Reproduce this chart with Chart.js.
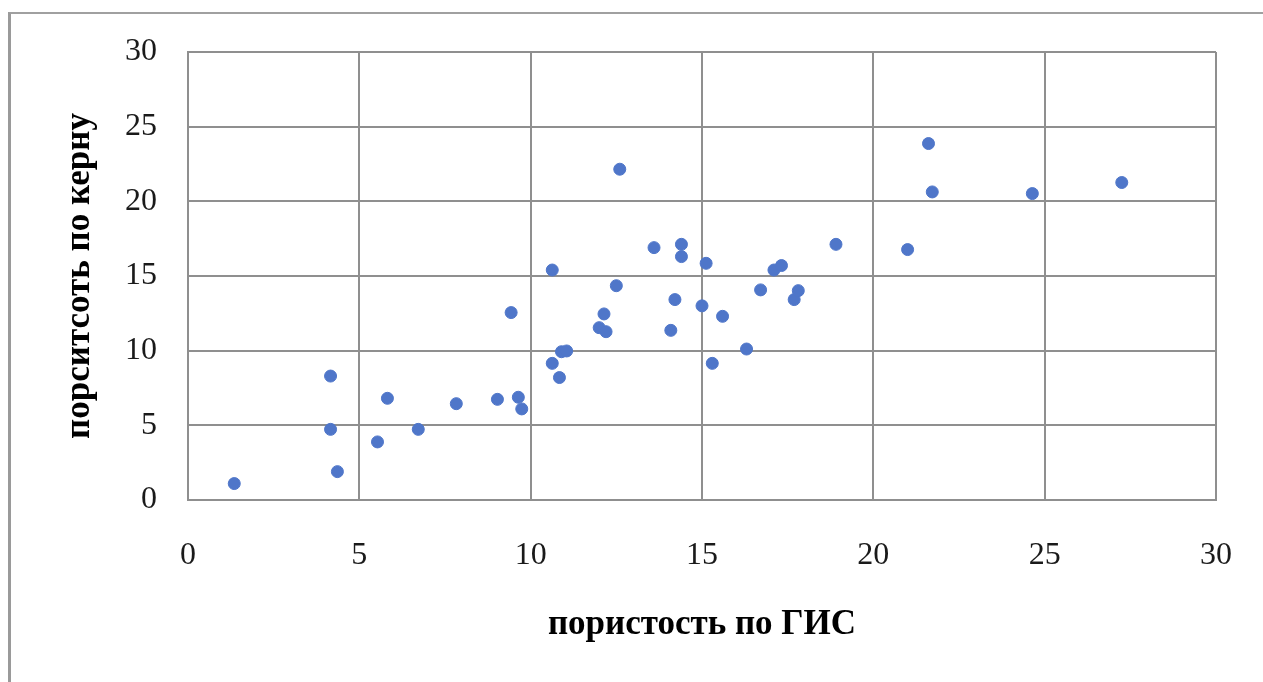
<!DOCTYPE html>
<html lang="ru">
<head>
  <meta charset="UTF-8" />
  <title>Пористость: ГИС и керн</title>
  <script src="https://cdn.jsdelivr.net/npm/chart.js"></script>
  <style>
    html, body { margin: 0; padding: 0; background: #fff; }
    .wrap { position: relative; width: 1263px; height: 682px; overflow: hidden; }
    .frame {
      position: absolute; left: 8px; top: 12px; width: 1300px; height: 700px;
      border-top: 2px solid #a0a0a0; border-left: 3px solid #9a9a9a;
    }
    canvas { position: absolute; left: 0; top: 0; }
  </style>
</head>
<body>
  <div class="wrap">
    <div class="frame"></div>
    <canvas id="scatter" width="1263" height="682"></canvas>
  </div>

  <script>
    // пористость по ГИС (x) и по керну (y)
    const gisValues = [
      1.35, 4.16, 4.16, 4.36, 5.53, 5.82, 6.72, 7.83, 9.03, 9.64,
      9.74, 9.43, 10.63, 10.63, 10.84, 10.9, 11.05, 12.0, 12.2, 12.14,
      12.5, 12.6, 13.6, 14.4, 14.4, 14.09, 14.21, 15.0, 15.12, 15.3,
      15.6, 16.3, 16.71, 17.1, 17.32, 17.69, 17.81, 18.91, 21.0, 21.61,
      21.72, 24.64, 27.25
    ];
    const coreValues = [
      1.1, 8.3, 4.73, 1.9, 3.89, 6.81, 4.73, 6.45, 6.74, 6.88,
      6.1, 12.55, 15.4, 9.15, 8.2, 9.93, 9.98, 11.54, 11.27, 12.46,
      14.35, 22.15, 16.9, 17.12, 16.3, 11.36, 13.42, 13.0, 15.85, 9.15,
      12.3, 10.11, 14.07, 15.4, 15.7, 13.42, 14.02, 17.12, 16.77, 23.87,
      20.63, 20.52, 21.26
    ];
    const xTicks = [0, 5, 10, 15, 20, 25, 30];
    const yTicks = [0, 5, 10, 15, 20, 25, 30];

    const points = gisValues.map((x, i) => ({ x: x, y: coreValues[i] }));

    const gridColor = "#8f8f8f";
    const serif = "'Liberation Serif', 'DejaVu Serif', serif";

    new Chart(document.getElementById("scatter").getContext("2d"), {
      type: "scatter",
      data: {
        datasets: [{
          data: points,
          backgroundColor: "#4f76c9",
          borderColor: "#4f76c9",
          pointRadius: 6,
          pointHoverRadius: 6
        }]
      },
      options: {
        responsive: false,
        animation: false,
        layout: { padding: { left: 0, top: 52, right: 47, bottom: 0 } },
        plugins: { legend: { display: false }, tooltip: { enabled: false } },
        scales: {
          x: {
            type: "linear",
            min: 0,
            max: 30,
            afterBuildTicks: s => { s.ticks = xTicks.map(v => ({ value: v })); },
            afterFit: s => {
              s.height = 182;
              // tick padding is pushing the right edge in, drop it
              s.paddingLeft = 0;
              s.paddingRight = 0;
            },
            grid: { color: gridColor, lineWidth: 2, drawTicks: false },
            border: { color: gridColor, width: 2 },
            ticks: {
              padding: 36,
              color: "#1a1a1a",
              font: { family: serif, size: 32 }
            },
            title: {
              display: true,
              text: "пористость по ГИС",
              color: "#000",
              padding: { top: 0, bottom: 36 },
              font: { family: serif, size: 35, weight: "bold" }
            }
          },
          y: {
            type: "linear",
            min: 0,
            max: 30,
            afterBuildTicks: s => { s.ticks = yTicks.map(v => ({ value: v })); },
            afterFit: s => {
              s.width = 188;
              s.paddingTop = 0;
              s.paddingBottom = 0;
            },
            grid: { color: gridColor, lineWidth: 2, drawTicks: false },
            border: { color: gridColor, width: 2 },
            ticks: {
              padding: 31,
              color: "#1a1a1a",
              font: { family: serif, size: 32 }
            },
            title: {
              display: true,
              text: "порситсоть по керну",
              color: "#000",
              padding: { top: 59, bottom: 0 },
              font: { family: serif, size: 35, weight: "bold" }
            }
          }
        }
      }
    });
  </script>
</body>
</html>
